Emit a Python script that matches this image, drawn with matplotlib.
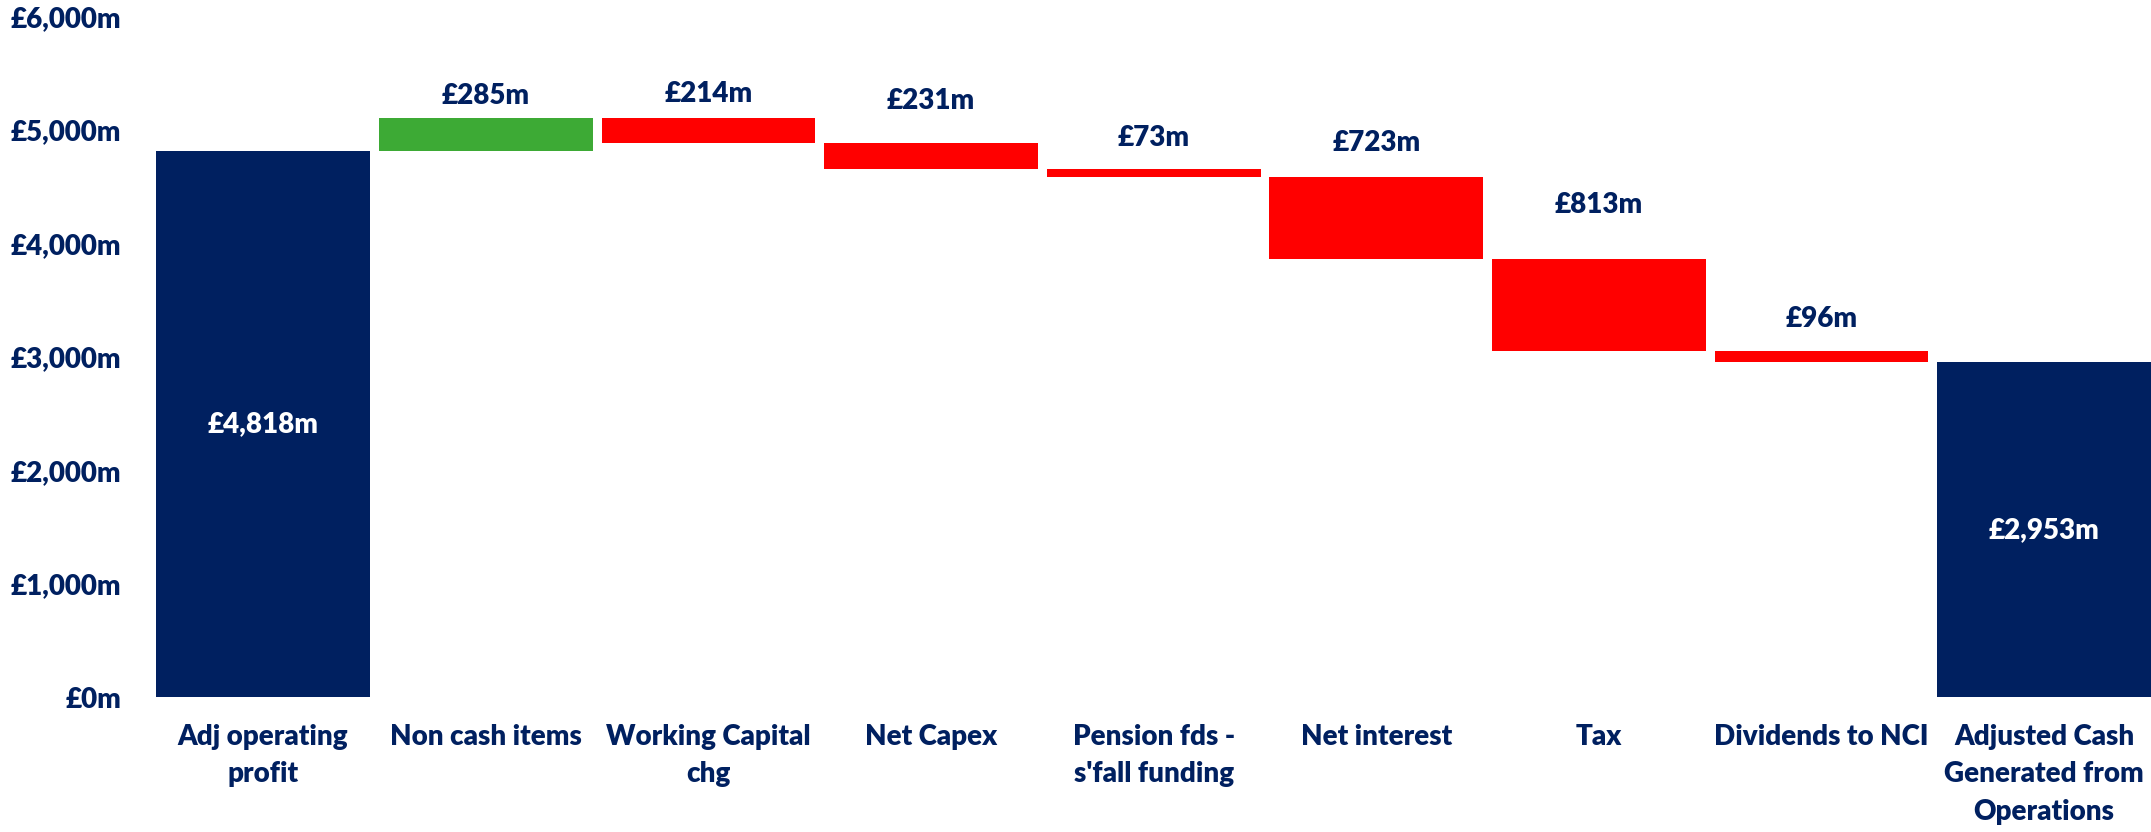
import matplotlib.pyplot as plt
import numpy as np

# --- data ---
categories = ["Adj operating\nprofit", "Non cash items", "Working Capital\nchg", "Net Capex",
              "Pension fds -\ns'fall funding", "Net interest", "Tax", "Dividends to NCI",
              "Adjusted Cash\nGenerated from\nOperations"]
start_value = 4818
changes = [285, -214, -231, -73, -723, -813, -96]
end_value = 2953
y_ticks = [0, 1000, 2000, 3000, 4000, 5000, 6000]

# label placement above each step (in £m, above the bar top)
label_gaps = [193, 217, 371, 275, 300, 479, 288]

NAVY = "#002060"
GREEN = "#3DAA35"
RED = "#FF0000"
WEIGHT = "heavy"

plt.rcParams["font.family"] = ["Lato", "DejaVu Sans"]

fig = plt.figure(figsize=(21.51, 8.32), dpi=100)
ax = fig.add_axes([0.0706, 0.162, 0.9294, 0.818])

x = np.arange(len(categories))
w = 0.96

# totals
ax.bar(x[0], start_value, width=w, color=NAVY)
ax.bar(x[-1], end_value, width=w, color=NAVY)
ax.text(x[0], start_value / 2, f"£{start_value:,}m", color="white", ha="center", va="center", fontsize=20, fontweight=WEIGHT)
ax.text(x[-1], end_value / 2, f"£{end_value:,}m", color="white", ha="center", va="center", fontsize=20, fontweight=WEIGHT)

# steps
running = start_value
for i, (d, gap) in enumerate(zip(changes, label_gaps), start=1):
    lo = running if d > 0 else running + d
    ax.bar(x[i], abs(d), bottom=lo, width=w, color=GREEN if d > 0 else RED)
    top = lo + abs(d)
    ax.text(x[i], top + gap, f"£{abs(d):,}m", color=NAVY, ha="center", va="center", fontsize=20, fontweight=WEIGHT)
    running += d

ax.set_xlim(-0.5, len(categories) - 0.52)
ax.set_ylim(0, 6000)
ax.set_yticks(y_ticks)
ax.set_yticklabels([f"£{v:,}m" for v in y_ticks])
ax.set_xticks(x)
ax.set_xticklabels(categories, linespacing=1.55)

ax.tick_params(axis="y", length=0, pad=22, labelsize=20, labelcolor=NAVY)
ax.tick_params(axis="x", length=0, pad=19, labelsize=20, labelcolor=NAVY)
for s in ax.spines.values():
    s.set_visible(False)
for lbl in ax.get_xticklabels() + ax.get_yticklabels():
    lbl.set_fontweight(WEIGHT)

fig.savefig("out.png", dpi=100)
